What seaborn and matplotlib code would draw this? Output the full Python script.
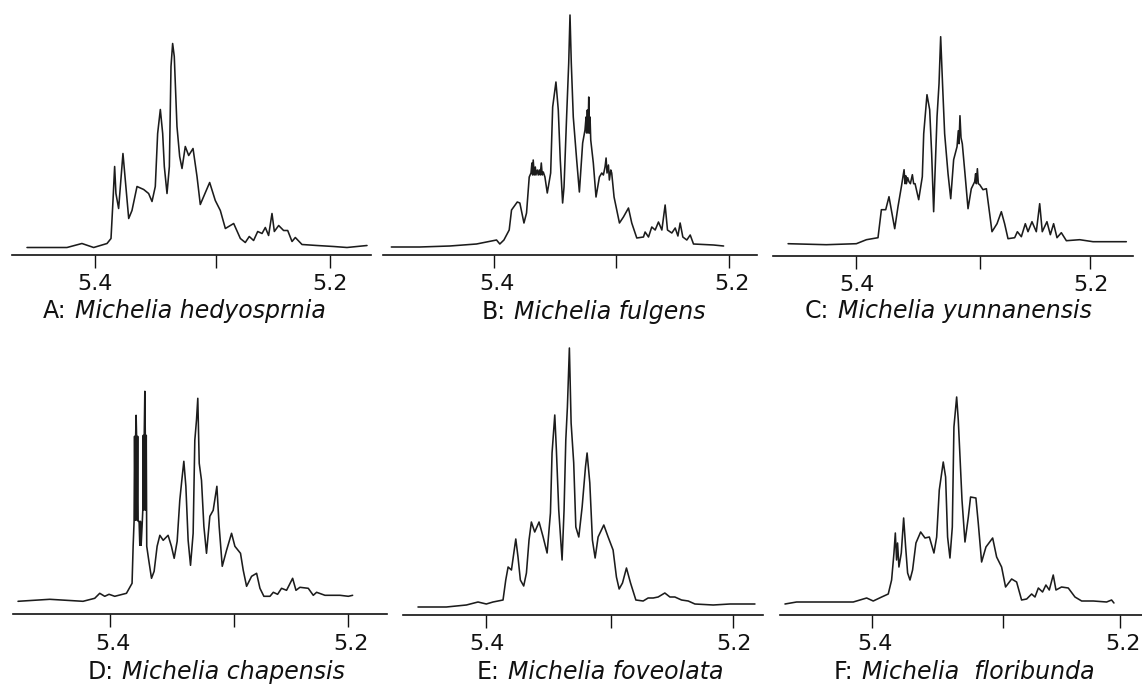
#!/usr/bin/env python3
# -*- coding: utf-8 -*-
"""
1H NMR spectra of six Michelia species (olefinic region)
"""

import matplotlib
matplotlib.use("Agg")
import matplotlib.pyplot as plt
from matplotlib.transforms import ScaledTranslation
import pandas as pd
import seaborn as sns

# chemical shift (ppm) and signal height
shift_a = [5.4583, 5.4441, 5.4242, 5.4114, 5.4014, 5.3900, 5.3866, 5.3849, 5.3835, 5.3824, 5.3801, 5.3764, 5.3715,
           5.3687, 5.3644, 5.3587, 5.3545, 5.3516, 5.3488, 5.3468, 5.3445, 5.3425, 5.3411, 5.3388, 5.3368, 5.3354,
           5.3340, 5.3326, 5.3303, 5.3280, 5.3260, 5.3232, 5.3203, 5.3166, 5.3132, 5.3104, 5.3075, 5.3024, 5.2976,
           5.2933, 5.2890, 5.2819, 5.2762, 5.2720, 5.2686, 5.2649, 5.2614, 5.2577, 5.2549, 5.2521, 5.2492, 5.2472,
           5.2435, 5.2393, 5.2358, 5.2321, 5.2293, 5.2236, 5.2108, 5.1966, 5.1852, 5.1681]
intensity_a = [7, 7, 7, 11, 7, 11, 16, 54, 88, 61, 46, 101, 36,
               44, 68, 65, 61, 53, 68, 121, 145, 121, 88, 61, 88, 188,
               211, 198, 128, 98, 86, 108, 99, 106, 78, 50, 58, 72, 54,
               44, 26, 31, 16, 12, 18, 14, 23, 21, 27, 19, 41, 23,
               29, 24, 24, 13, 17, 10, 9, 8, 7, 9]

shift_b = [5.4878, 5.4636, 5.4379, 5.4151, 5.3980, 5.3952, 5.3917, 5.3872, 5.3852, 5.3803, 5.3781, 5.3746, 5.3724,
           5.3701, 5.3686, 5.3678, 5.3672, 5.3667, 5.3658, 5.3649, 5.3644, 5.3632, 5.3624, 5.3615, 5.3607, 5.3598,
           5.3590, 5.3581, 5.3567, 5.3547, 5.3518, 5.3501, 5.3473, 5.3453, 5.3436, 5.3416, 5.3404,
           5.3382, 5.3364, 5.3353, 5.3342, 5.3325, 5.3296, 5.3273, 5.3245, 5.3225, 5.3216, 5.3211, 5.3205, 5.3199,
           5.3193, 5.3188, 5.3182, 5.3176, 5.3154, 5.3131,
           5.3102, 5.3082, 5.3068, 5.3054, 5.3045, 5.3037, 5.3025, 5.3017, 5.3005, 5.2997, 5.2977, 5.2931, 5.2897,
           5.2854, 5.2826, 5.2783, 5.2726, 5.2712,
           5.2683, 5.2655, 5.2626, 5.2598, 5.2569, 5.2541, 5.2521, 5.2484, 5.2455, 5.2432, 5.2413, 5.2390, 5.2356,
           5.2327, 5.2299, 5.2128, 5.2042]
intensity_b = [8, 8, 9, 11, 15, 11, 15, 25, 45, 53, 52, 32, 42,
               78, 82, 92, 80, 95, 80, 88, 80, 85, 80, 85, 80, 92,
               80, 83, 78, 62, 82, 148, 173, 145, 95, 52, 68,
               138, 192, 240, 192, 138, 95, 63, 112, 125, 138, 122, 145, 122,
               158, 122, 138, 115, 92, 58,
               78, 82, 80, 88, 97, 82, 90, 75, 85, 82, 58, 32, 38,
               47, 32, 17, 18, 23,
               18, 28, 25, 33, 25, 50, 25, 22, 27, 19, 32, 18, 15,
               20, 11, 10, 9]

shift_c = [5.4584, 5.4257, 5.4000, 5.3914, 5.3815, 5.3786, 5.3749, 5.3721, 5.3695, 5.3672, 5.3644, 5.3615, 5.3592,
           5.3584, 5.3578, 5.3572, 5.3561, 5.3550, 5.3538, 5.3521, 5.3510, 5.3498, 5.3467, 5.3436, 5.3424, 5.3396,
           5.3373, 5.3356, 5.3339, 5.3310, 5.3293,
           5.3279, 5.3262, 5.3245, 5.3216, 5.3193, 5.3168, 5.3139, 5.3128, 5.3122, 5.3114, 5.3105, 5.3094, 5.3071,
           5.3045, 5.3017, 5.2988, 5.2980, 5.2974,
           5.2965, 5.2957, 5.2945, 5.2917, 5.2888, 5.2860, 5.2840, 5.2797, 5.2760, 5.2732, 5.2703, 5.2646, 5.2623,
           5.2589, 5.2555, 5.2532, 5.2498, 5.2461, 5.2432, 5.2410, 5.2370, 5.2341, 5.2313, 5.2284, 5.2247, 5.2204,
           5.2090, 5.1976, 5.1834, 5.1691]
intensity_c = [12, 11, 12, 16, 18, 46, 46, 59, 42, 27, 49, 69, 86,
               72, 80, 72, 78, 74, 72, 81, 72, 72, 56, 79, 122, 161,
               146, 102, 44, 139, 172,
               219, 169, 122, 82, 57, 96, 109, 125, 112, 140, 118, 112, 82,
               47, 67, 74, 82, 72,
               87, 72, 71, 66, 67, 42, 24, 32, 44, 32, 17, 18, 24,
               19, 32, 24, 34, 24, 52, 24, 34, 21, 32, 18, 23, 15,
               16, 14, 14, 14]

shift_d = [5.4769, 5.4503, 5.4224, 5.4126, 5.4084, 5.4042, 5.4006, 5.3958, 5.3860, 5.3813, 5.3804,
           5.3796, 5.3792, 5.3787, 5.3783, 5.3779, 5.3775, 5.3771, 5.3766, 5.3762,
           5.3754, 5.3748, 5.3743, 5.3737, 5.3729,
           5.3723, 5.3719, 5.3715, 5.3711, 5.3706, 5.3702, 5.3698, 5.3694, 5.3690,
           5.3673, 5.3650, 5.3628, 5.3603, 5.3580, 5.3552, 5.3511, 5.3483, 5.3460,
           5.3435, 5.3413, 5.3396, 5.3379, 5.3362, 5.3343, 5.3323, 5.3301, 5.3287, 5.3273, 5.3262, 5.3250, 5.3231,
           5.3211, 5.3189, 5.3161, 5.3133, 5.3102, 5.3083, 5.3057, 5.3021, 5.2979, 5.2951, 5.2904, 5.2881, 5.2853,
           5.2811, 5.2769, 5.2741, 5.2708, 5.2657, 5.2629, 5.2593, 5.2560, 5.2518, 5.2467, 5.2439, 5.2406, 5.2336,
           5.2294, 5.2266, 5.2196, 5.2070, 5.2000, 5.1964]
intensity_d = [13, 15, 13, 16, 21, 18, 20, 18, 21, 31, 68,
               93, 178, 94, 178, 199, 178, 94, 178, 93,
               93, 69, 93, 69, 88,
               104, 179, 104, 179, 223, 179, 104, 179, 68,
               54, 36, 43, 68, 79, 74, 79, 68, 56,
               73, 114, 134, 153, 128, 74, 49, 81, 174, 194, 216, 151, 134,
               88, 61, 98, 104, 128, 88, 48, 64, 81, 68, 61, 44, 28,
               38, 41, 26, 18, 18, 22, 20, 26, 24, 36, 24, 27, 26,
               19, 22, 19, 19, 18, 19]

shift_e = [5.4547, 5.4318, 5.4156, 5.4062, 5.3995, 5.3941, 5.3860, 5.3838, 5.3819, 5.3792, 5.3757, 5.3739, 5.3720,
           5.3693, 5.3671, 5.3650, 5.3631, 5.3604, 5.3569, 5.3536, 5.3504, 5.3477, 5.3464, 5.3442, 5.3429, 5.3410,
           5.3383, 5.3367, 5.3353, 5.3340, 5.3324, 5.3310, 5.3289, 5.3272, 5.3248, 5.3221, 5.3194, 5.3181, 5.3159,
           5.3138, 5.3116, 5.3092, 5.3046, 5.3011, 5.2971, 5.2944, 5.2922, 5.2895, 5.2863, 5.2830, 5.2787, 5.2728,
           5.2688, 5.2647, 5.2607, 5.2553, 5.2512, 5.2472, 5.2418, 5.2364, 5.2310, 5.2162, 5.2027, 5.1825]
intensity_e = [8, 8, 10, 13, 11, 13, 15, 35, 48, 45, 76, 58, 35,
               29, 42, 75, 93, 83, 93, 78, 62, 102, 162, 200, 165, 105,
               55, 105, 175, 208, 267, 192, 152, 88, 78, 108, 148, 162, 132,
               75, 57, 78, 90, 78, 65, 38, 26, 32, 47, 32, 15, 14,
               17, 17, 18, 22, 18, 18, 15, 14, 11, 10, 11, 11]

shift_f = [5.4698, 5.4604, 5.4362, 5.4148, 5.4040, 5.3987, 5.3919, 5.3866, 5.3839, 5.3820, 5.3809, 5.3799, 5.3791,
           5.3780, 5.3761, 5.3742, 5.3726, 5.3710, 5.3691, 5.3670, 5.3643, 5.3605, 5.3570, 5.3535, 5.3498, 5.3476,
           5.3455, 5.3423, 5.3404, 5.3388, 5.3369, 5.3350, 5.3337, 5.3315, 5.3302, 5.3288, 5.3272, 5.3248, 5.3221,
           5.3203, 5.3160, 5.3141, 5.3114, 5.3079, 5.3025, 5.2993, 5.2953, 5.2921, 5.2872, 5.2832, 5.2792, 5.2751,
           5.2711, 5.2684, 5.2657, 5.2623, 5.2596, 5.2569, 5.2537, 5.2515, 5.2470, 5.2416, 5.2362, 5.2308, 5.2214,
           5.2107, 5.2067, 5.2048]
intensity_f = [11, 13, 13, 13, 17, 14, 18, 21, 35, 62, 82, 55, 72,
               48, 62, 97, 68, 42, 35, 45, 72, 83, 77, 78, 62, 78,
               125, 153, 138, 78, 57, 88, 188, 218, 195, 158, 115, 73, 98,
               118, 117, 92, 53, 68, 77, 58, 48, 28, 36, 33, 15, 16,
               21, 18, 27, 23, 30, 25, 40, 25, 28, 27, 18, 14, 14,
               13, 15, 12]

letters = ['A:', 'B:', 'C:', 'D:', 'E:', 'F:']
species = ['Michelia hedyosprnia', 'Michelia fulgens', 'Michelia yunnanensis',
           'Michelia chapensis', 'Michelia foveolata', 'Michelia  floribunda']
tick_labels = ['5.4', '', '5.2']
mid_ticks = [5.2967, 5.2960, 5.2945, 5.2960, 5.2984, 5.2945]

shifts = [shift_a, shift_b, shift_c, shift_d, shift_e, shift_f]
intensities = [intensity_a, intensity_b, intensity_c, intensity_d, intensity_e, intensity_f]

# layout in pixels: left, right, axis line y, height of axes
W, H = 1142, 685
boxes = [(12, 371, 254.5, 254), (383, 757, 255, 254), (773, 1133, 255.7, 254),
         (13, 387, 614.3, 274), (403, 763, 615, 274), (780, 1142, 615, 274)]
xlims = [(5.4711, 5.1647), (5.4949, 5.1757), (5.4713, 5.1634),
         (5.4811, 5.1676), (5.4668, 5.1760), (5.4738, 5.1822)]
caption_pos = [(43, 318), (482, 319), (805, 318), (88, 679), (477, 679), (834, 679)]
label_shift = [0, 3, 1, 3, 1, 3]

sns.set_theme(style = "white")
plt.rcParams['font.family'] = ['DejaVu Sans']

fig = plt.figure(figsize = (W / 100, H / 100), dpi = 100, facecolor = 'white')

for i in range(6):
    left, right, base, height = boxes[i]
    ax = fig.add_axes([left / W, 1 - base / H, (right - left) / W, height / H])
    ax.patch.set_alpha(0)

    df = pd.DataFrame({'shift': shifts[i], 'intensity': intensities[i]})
    sns.lineplot(data = df, x = 'shift', y = 'intensity', ax = ax, estimator = None, sort = False,
                 color = '#1c1c1c', linewidth = 1.15, clip_on = False)

    ax.set_xlim(*xlims[i])
    ax.set_ylim(0, height)
    ax.set_xlabel('')
    ax.set_ylabel('')
    ax.set_yticks([])
    ax.set_xticks([5.4, mid_ticks[i], 5.2])
    ax.set_xticklabels(tick_labels)
    ax.tick_params(axis = 'x', bottom = True, length = 9.5, width = 1.0, color = '#111111',
                   pad = 4.5, labelsize = 16, labelcolor = '#111111')
    for lab in ax.get_xticklabels():
        lab.set_transform(lab.get_transform() + ScaledTranslation(label_shift[i] / 100, 0, fig.dpi_scale_trans))

    sns.despine(ax = ax, left = True)
    ax.spines['bottom'].set_linewidth(1.2)
    ax.spines['bottom'].set_color('#111111')

    # letter upright, species name in italics
    cx, cy = caption_pos[i]
    first = fig.text(cx / W, 1 - cy / H, letters[i], fontsize = 17, color = '#111111', va = 'baseline')
    ax.annotate(species[i], xy = (1, 0), xycoords = first, xytext = (6, 0), textcoords = 'offset points',
                fontsize = 17, style = 'italic', color = '#111111', va = 'bottom', annotation_clip = False)

fig.savefig('out.png', dpi = 100)
